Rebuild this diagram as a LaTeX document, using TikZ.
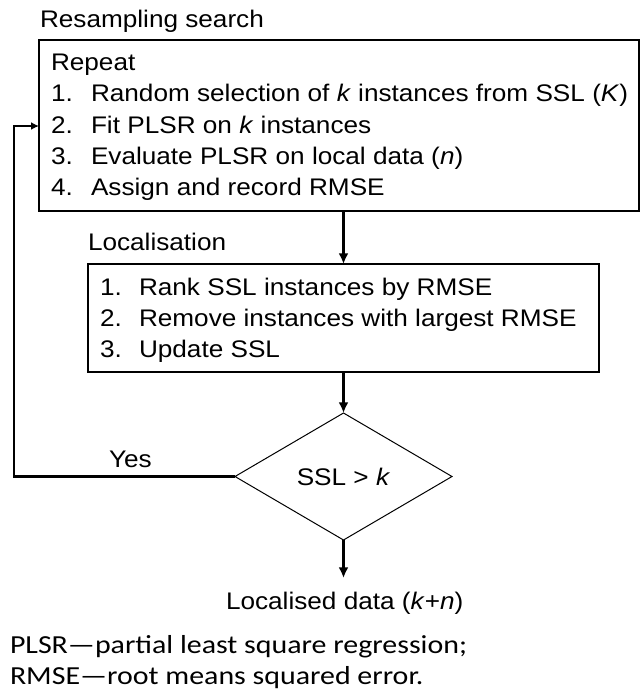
\documentclass[tikz,border=0pt]{standalone}
\usepackage{fontspec}
\setmainfont{Liberation Sans}[FakeStretch=1.09]
\newfontfamily\legendfont{Carlito}[FakeStretch=1.15]
\usetikzlibrary{shapes.geometric,arrows.meta}
\begin{document}
\begin{tikzpicture}[x=0.75pt,y=-0.75pt,
  every node/.style={inner sep=0pt, outer sep=0pt},
  txt/.style={anchor=base west, font=\fontsize{18pt}{21pt}\selectfont},
  legend/.style={anchor=base west, font=\legendfont\fontsize{19.5pt}{23pt}\selectfont},
  boxnode/.style={draw, line width=0.9pt},
  decision/.style={draw, diamond, line width=0.75pt, font=\fontsize{18pt}{21pt}\selectfont},
  arr/.style={line width=1.6pt, -{Latex[length=8pt,width=7.5pt]}},
  loopline/.style={line width=1.6pt, -{Latex[length=6pt,width=6pt]}}
]
\useasboundingbox (0,0) rectangle (640,692);

% titles
\node[txt] (title1) at (40,28) {Resampling search};
\node[boxnode, minimum width=450pt, minimum height=128.25pt] (box1) at (339,125.5) {};
\node[txt] (rep) at (51,70) {Repeat};
\node[txt] (n1) at (51,102) {1.};
\node[txt] (t1) at (91,102) {Random selection of \textit{k} instances from SSL (\textit{K})};
\node[txt] (n2) at (51,133) {2.};
\node[txt] (t2) at (91,133) {Fit PLSR on \textit{k} instances};
\node[txt] (n3) at (51,164) {3.};
\node[txt] (t3) at (91,164) {Evaluate PLSR on local data (\textit{n})};
\node[txt] (n4) at (51,195) {4.};
\node[txt] (t4) at (91,195) {Assign and record RMSE};

\node[txt] (title2) at (88,250) {Localisation};
\node[boxnode, minimum width=383.25pt, minimum height=81pt] (box2) at (343.5,318) {};
\node[txt] (m1) at (100,295) {1.};
\node[txt] (u1) at (139,295) {Rank SSL instances by RMSE};
\node[txt] (m2) at (100,326) {2.};
\node[txt] (u2) at (139,326) {Remove instances with largest RMSE};
\node[txt] (m3) at (100,357) {3.};
\node[txt] (u3) at (139,357) {Update SSL};

\node[decision, minimum width=162.75pt, minimum height=95.25pt] (dia) at (343.5,476.5) {SSL > \textit{k}};
\node[txt] (yes) at (109,467) {Yes};

\node[txt] (out) at (226,609) {Localised data (\textit{k}+\textit{n})};
\coordinate (outtop) at (343.5,578);

\node[legend] (leg1) at (10,653) {PLSR—partial least square regression;};
\node[legend] (leg2) at (10,684) {RMSE—root means squared error.};

% connectors
\draw[arr] (box2.north |- box1.south) -- (box2.north);
\draw[arr] (box2.south) -- (dia.north);
\draw[arr] (dia.south) -- (outtop);
\coordinate (lb) at (14,476.5);
\coordinate (lt) at (14,126);
\draw[loopline] (dia.west) -- (lb) -- (lt) -- (lt -| box1.west);
\end{tikzpicture}
\end{document}
